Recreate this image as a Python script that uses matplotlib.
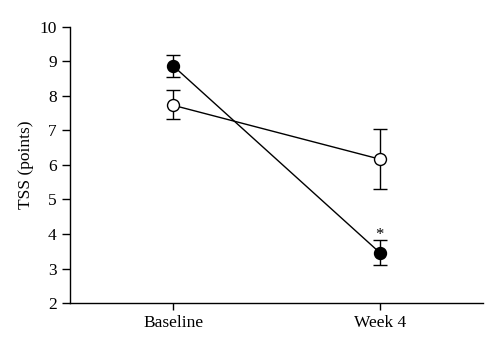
import numpy as np
import matplotlib
matplotlib.use('Agg')
import matplotlib.pyplot as plt

plt.rcParams['font.family'] = ['Liberation Serif', 'DejaVu Serif']

timepoints = ['Baseline', 'Week 4']

# open circles
open_mean = [7.73, 6.17]
open_err_lo = [0.41, 0.87]
open_err_hi = [0.43, 0.88]

# filled circles
filled_mean = [8.87, 3.46]
filled_err_lo = [0.32, 0.35]
filled_err_hi = [0.33, 0.36]

x = np.arange(len(timepoints))

fig = plt.figure(figsize=(5, 3.53), dpi=100)
ax = fig.add_axes([0.14, 0.1416, 0.826, 0.782])

ax.errorbar(x, open_mean, yerr=[open_err_lo, open_err_hi], color='k', lw=1.0,
            elinewidth=1.0, capsize=4.7, capthick=1.0, marker='o', ms=8.6,
            mfc='white', mec='k', mew=1.0, zorder=3)
ax.errorbar(x, filled_mean, yerr=[filled_err_lo, filled_err_hi], color='k', lw=1.0,
            elinewidth=1.0, capsize=4.7, capthick=1.0, marker='o', ms=8.6,
            mfc='k', mec='k', mew=1.0, zorder=4)

# significance marker
ax.text(x[1], filled_mean[1] + filled_err_hi[1] - 0.08, '*', ha='center', va='bottom',
        fontsize=12)

ax.set_xlim(-0.5, 1.5)
ax.set_ylim(2, 10)
ax.set_yticks(range(2, 11))
ax.set_xticks(x)
ax.set_xticklabels(timepoints)
ax.set_ylabel('TSS (points)', fontsize=12.5)

for s in ['top', 'right']:
    ax.spines[s].set_visible(False)
for s in ['left', 'bottom']:
    ax.spines[s].set_linewidth(1.0)
ax.tick_params(axis='both', labelsize=12.5, width=1.0, direction='out')
ax.tick_params(axis='y', length=6)
ax.tick_params(axis='x', length=5)

fig.savefig('out.png', dpi=100)
